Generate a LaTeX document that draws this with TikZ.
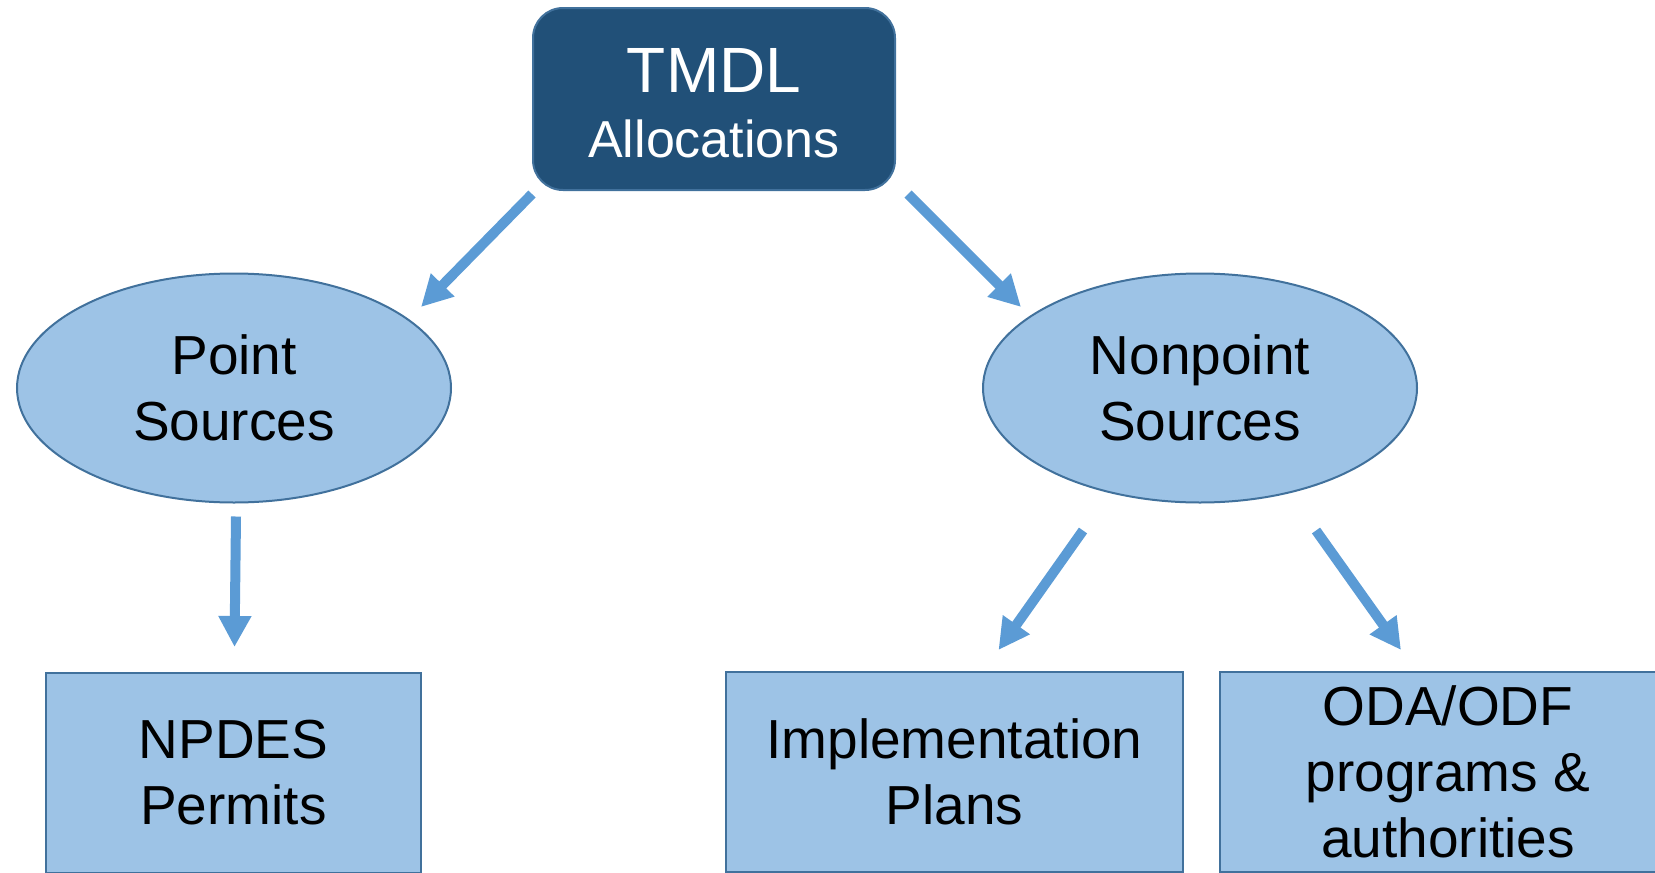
\documentclass[tikz,border=0pt]{standalone}
\usepackage{fontspec}
\setmainfont{Liberation Sans}
\usetikzlibrary{arrows.meta,shapes.geometric}
\definecolor{tmdlfill}{HTML}{215078}
\definecolor{tmdledge}{HTML}{41719C}
\definecolor{boxfill}{HTML}{9DC3E6}
\definecolor{boxedge}{HTML}{41719C}
\definecolor{flowblue}{HTML}{5B9BD5}

\begin{document}
\begin{tikzpicture}[x=1pt, y=-1pt,
    allocation/.style ={rectangle, rounded corners=30pt, draw=tmdledge, line width=2pt, fill=tmdlfill, text=white, minimum width=362pt, minimum height=182pt, align=center, font=\fontsize{52}{66}\selectfont},
    source/.style ={ellipse, draw=boxedge, line width=2pt, fill=boxfill, minimum width=434pt, minimum height=229pt, inner sep=0pt, align=center, font=\fontsize{55}{66}\selectfont},
    program/.style ={rectangle, draw=boxedge, line width=2pt, fill=boxfill, minimum height=200pt, align=center, font=\fontsize{55}{66}\selectfont},
    flow/.style ={draw=flowblue, line width=10pt, -{Triangle[length=31pt,width=31pt]}}]
   \useasboundingbox (0,0) rectangle (1655,873);
   \node[allocation] (tmdl)  at (714,99)  {\raisebox{-5pt}[\height][\depth]{\fontsize{64}{66}\selectfont TMDL}\\\raisebox{-4pt}[\height][\depth]{Allocations}};
   \node[source] (ps)  at (234,388)  {Point\\Sources};
   \node[source] (nps)  at (1200,388)  {Nonpoint\\Sources};
   \node[program, minimum width=375pt] (npdes)  at (233.5,773)  {NPDES\\Permits};
   \node[program, minimum width=457pt] (plan)  at (954.5,772)  {Implementation\\Plans};
   \node[program, minimum width=456pt] (oda)  at (1448,772)  {ODA/ODF\\programs \&\\authorities};
   \coordinate (ps-in) at (421,307);
   \coordinate (nps-in) at (1021,307);
   \coordinate (npdes-in) at (234.5,647);
   \coordinate (plan-in) at (998.5,650);
   \coordinate (oda-in) at (1401,650);
   \draw[flow] ([yshift=-3pt]tmdl.south west) -- (ps-in);
   \draw[flow] ([xshift=12pt,yshift=-3pt]tmdl.south east) -- (nps-in);
   \draw[flow] ([xshift=2pt,yshift=-13pt]ps.south) -- (npdes-in);
   \draw[flow] ([xshift=-117pt,yshift=-27pt]nps.south) -- (plan-in);
   \draw[flow] ([xshift=116pt,yshift=-27pt]nps.south) -- (oda-in);
 \end{tikzpicture}
\end{document}
